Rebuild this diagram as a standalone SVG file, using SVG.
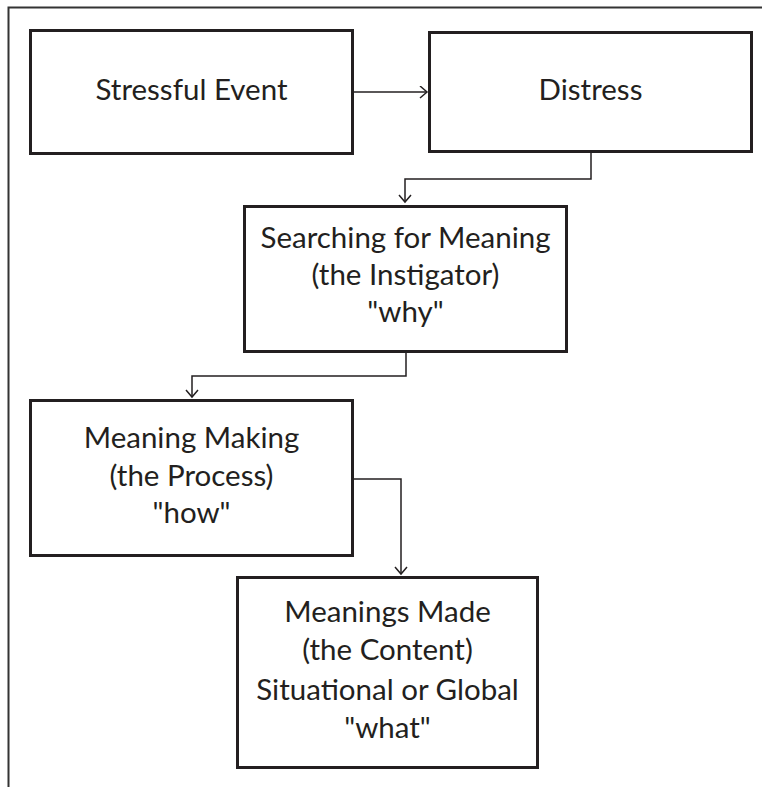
<svg xmlns="http://www.w3.org/2000/svg" width="762" height="787" viewBox="0 0 762 787">
<defs>
<style>
.box{fill:#fff;stroke:#231f20;stroke-width:3}
.lbl{font-family:Lato,"Open Sans","Liberation Sans",sans-serif;font-size:29.5px;fill:#231f20;text-anchor:middle}
.conn{fill:none;stroke:#231f20;stroke-width:1.5}
.frame{fill:none;stroke:#333;stroke-width:2}
</style>
<marker id="arr" markerUnits="userSpaceOnUse" markerWidth="12" markerHeight="14" refX="8" refY="6.5" orient="auto">
<path d="M1,0.5 L8,6.5 L1,12.5" fill="none" stroke="#231f20" stroke-width="1.5"/>
</marker>
</defs>
<rect width="762" height="787" fill="#fff"/>
<g id="frame">
<path class="frame" d="M8.5,787 V7.5 H762"/>
</g>
<g id="connectors">
<path class="conn" d="M354,92 H427" marker-end="url(#arr)"/>
<path class="conn" d="M591,153 V179 H405 V202" marker-end="url(#arr)"/>
<path class="conn" d="M406,353 V376 H192 V397" marker-end="url(#arr)"/>
<path class="conn" d="M354,479 H401 V574" marker-end="url(#arr)"/>
</g>
<g id="stressful-event">
<rect class="box" x="30.5" y="30.5" width="322" height="123"/>
<text class="lbl" x="191.5" y="100">Stressful Event</text>
</g>
<g id="distress">
<rect class="box" x="429.5" y="32.5" width="322" height="119"/>
<text class="lbl" x="590.5" y="100">Distress</text>
</g>
<g id="searching">
<rect class="box" x="244.5" y="206.5" width="322" height="145"/>
<text class="lbl" x="405.5" y="248">Searching for Meaning</text>
<text class="lbl" x="405.5" y="285">(the Instigator)</text>
<text class="lbl" x="405.5" y="322">"why"</text>
</g>
<g id="meaning-making">
<rect class="box" x="30.5" y="400.5" width="322" height="155"/>
<text class="lbl" x="191.5" y="448">Meaning Making</text>
<text class="lbl" x="191.5" y="486">(the Process)</text>
<text class="lbl" x="191.5" y="523">"how"</text>
</g>
<g id="meanings-made">
<rect class="box" x="237.5" y="577.5" width="300" height="190"/>
<text class="lbl" x="387.5" y="622">Meanings Made</text>
<text class="lbl" x="387.5" y="660">(the Content)</text>
<text class="lbl" x="387.5" y="700">Situational or Global</text>
<text class="lbl" x="387.5" y="738">"what"</text>
</g>
</svg>
